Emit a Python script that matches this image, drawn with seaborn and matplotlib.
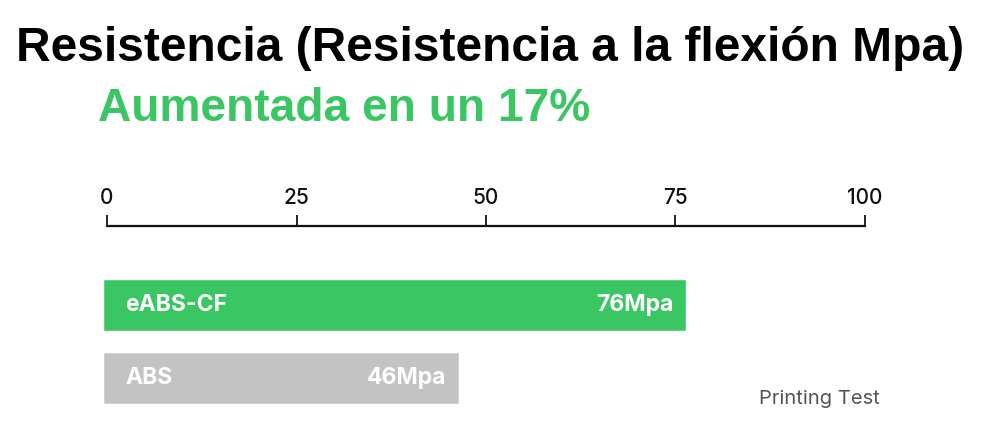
import matplotlib
matplotlib.use("Agg")
import matplotlib.pyplot as plt
import seaborn as sns
import pandas as pd

materials = ["eABS-CF", "ABS"]
strength = [76, 46]
value_labels = ["76Mpa", "46Mpa"]
bar_colors = ["#3AC763", "#C3C3C3"]
x_ticks = [0, 25, 50, 75, 100]

title = "Resistencia (Resistencia a la flexión Mpa)"
subtitle = "Aumentada en un 17%"
note = "Printing Test"

sns.set_theme(style="white")
plt.rcParams["font.family"] = ["Inter", "DejaVu Sans"]

df = pd.DataFrame({"material": materials, "strength": strength})

fig = plt.figure(figsize=(9.9, 4.26), dpi=100)
ax = fig.add_axes([0.1081, 0.0533, 0.7656, 0.4162])

sns.barplot(data=df, x="strength", y="material", hue="material", palette=bar_colors,
            orient="h", width=0.62, legend=False, ax=ax, saturation=1)
for p, c in zip(ax.patches, bar_colors):
    p.set_edgecolor(c)
    p.set_linewidth(4)
    p.set_clip_on(False)

ax.set_xlim(0, 100)
ax.set_ylim(1.34, -1.089)
ax.xaxis.tick_top()
ax.set_xticks(x_ticks)
ax.set_xticklabels([str(t) for t in x_ticks], fontsize=15, fontweight="medium", color="#111111")
ax.tick_params(axis="x", direction="out", length=8, width=1.3, pad=5, colors="#111111")
ax.set_yticks([])
ax.set_xlabel("")
ax.set_ylabel("")
for s in ["left", "right", "bottom"]:
    ax.spines[s].set_visible(False)
ax.spines["top"].set_linewidth(1.6)
ax.spines["top"].set_color("#111111")

for i, (name, val, lab) in enumerate(zip(materials, strength, value_labels)):
    ax.text(2.4, i, name, color="white", fontsize=16.5, fontweight="bold",
            va="center", ha="left")
    ax.text(val - 1.3, i, lab, color="white", fontsize=16.5, fontweight="bold",
            va="center", ha="right")

fig.text(0.495, 0.887, title, ha="center", va="center", fontsize=34.5,
         fontweight="bold", color="black", family=["Liberation Sans", "DejaVu Sans"])
fig.text(0.099, 0.745, subtitle, ha="left", va="center", fontsize=33.2,
         fontweight="bold", color="#3AC763", family=["Liberation Sans", "DejaVu Sans"])
fig.text(0.889, 0.063, note, ha="right", va="center", fontsize=14.5,
         color="#555555")

fig.savefig("out.png", dpi=100)
